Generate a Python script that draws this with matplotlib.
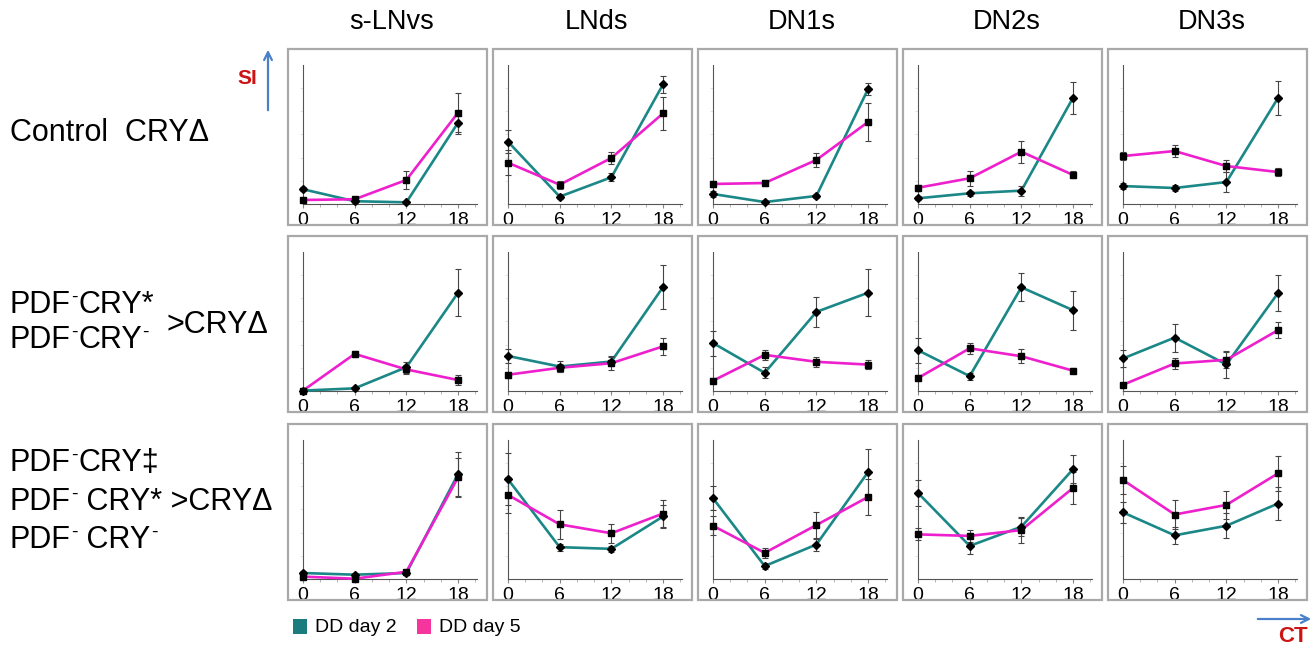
import matplotlib
matplotlib.use("Agg")
import matplotlib.pyplot as plt
from matplotlib.patches import Rectangle, FancyArrowPatch
from matplotlib import font_manager
import numpy as np

# ---------------- data ----------------
cells = ["s-LNvs", "LNds", "DN1s", "DN2s", "DN3s"]
ct = [0, 6, 12, 18]
legend_labels = ["DD day 2", "DD day 5"]

# Row 1: Control CRYΔ
day2_row1 = [[10.6, 2.0, 1.2, 58.5], [44.8, 5.3, 19.2, 86.1], [7.2, 1.4, 5.8, 82.7],
             [4.1, 7.7, 9.6, 76.5], [12.9, 11.5, 15.8, 76.3]]
day5_row1 = [[2.9, 3.4, 17.3, 65.7], [29.7, 13.9, 33.1, 65.2], [14.4, 15.1, 31.7, 59.0],
             [11.7, 18.5, 37.6, 20.9], [34.5, 38.1, 27.3, 23.0]]
err2_row1 = [[1.5, 1, 1, 8], [8.4, 2, 3, 6], [2, 1, 1.5, 4], [1.5, 2, 3.5, 11.6], [2, 2, 7, 12]]
err5_row1 = [[1, 1.5, 6.5, 14], [9, 3, 4, 12], [2.5, 2.5, 5, 14], [2, 5.5, 8, 2.5], [3, 4, 4, 3]]

# Row 2: PDF-CRY* PDF-CRY- >CRYΔ
day2_row2 = [[0.3, 1.9, 17.1, 70.7], [25.2, 17.6, 21.2, 74.8], [34.5, 13.1, 56.9, 70.7],
             [29.3, 10.7, 74.6, 58.1], [23.4, 38.4, 19.1, 70.5]]
day5_row2 = [[0.3, 26.7, 15.5, 7.9], [11.7, 16.7, 20.0, 32.1], [7.4, 26.0, 21.0, 19.0],
             [9.3, 30.7, 25.0, 14.6], [4.5, 19.8, 22.4, 43.8]]
err2_row2 = [[1, 1, 4, 17], [5, 4, 3, 16], [9, 4, 11, 17], [9, 2.5, 10, 14], [6, 10, 9.5, 13]]
err5_row2 = [[1, 2, 3, 3.5], [2, 3, 5, 6], [2, 3.5, 3.5, 3.5], [2, 4, 5, 2], [1.5, 4, 6, 6]]

# Row 3: PDF-CRY‡ PDF-CRY* PDF-CRY- >CRYΔ
day2_row3 = [[4.3, 3.1, 4.3, 75.5], [71.7, 22.9, 21.7, 45.0], [58.1, 9.3, 24.8, 76.9],
             [61.9, 23.8, 37.6, 79.0], [47.9, 31.4, 38.3, 54.3]]
day5_row3 = [[1.7, 0.2, 5.2, 73.1], [60.5, 39.3, 32.9, 47.1], [38.3, 18.8, 38.8, 59.0],
             [32.1, 31.0, 35.2, 65.5], [71.2, 46.4, 53.3, 76.0]]
err2_row3 = [[1.5, 1.5, 1.5, 16], [18.8, 2.4, 2.4, 8], [8.6, 2.4, 4.3, 16.7], [9.5, 6, 6.4, 10], [7.4, 6, 9, 12]]
err5_row3 = [[1.5, 1, 1.5, 14], [12.9, 10.7, 6.7, 9.5], [7, 3.8, 9.5, 13], [4.3, 4.3, 9.5, 11.4], [9.8, 10.7, 10.2, 12.6]]

day2 = [day2_row1, day2_row2, day2_row3]
day5 = [day5_row1, day5_row2, day5_row3]
err2 = [err2_row1, err2_row2, err2_row3]
err5 = [err5_row1, err5_row2, err5_row3]

# ---------------- style ----------------
TEAL = "#1b8787"
MAG = "#ee1fcc"
LEG_TEAL = "#1a7c7c"
LEG_MAG = "#f5349e"
ARROW = "#4a80c8"
RED = "#cc1414"

avail = {f.name for f in font_manager.fontManager.ttflist}
MAIN = ["Liberation Sans", "DejaVu Sans"]
NARROW = ["Liberation Sans Narrow", "Liberation Sans", "DejaVu Sans"] if "Liberation Sans Narrow" in avail else ["Liberation Sans", "DejaVu Sans"]
plt.rcParams["font.family"] = MAIN

W, H = 1315, 649
fig = plt.figure(figsize=(W / 100, H / 100), dpi=100)
renderer = fig.canvas.get_renderer()


def fx(px):
    return px / W


def fy(py):
    return 1 - py / H


box_left = [288, 493, 698, 903, 1108]
box_top = [49, 236, 424]
box_w, box_h = 199, 176

for r in range(3):
    for c in range(5):
        bl, bt = box_left[c], box_top[r]
        fig.patches.append(Rectangle((fx(bl), fy(bt + box_h)), box_w / W, box_h / H,
                                     transform=fig.transFigure, fill=False,
                                     edgecolor="#a9a9a9", lw=1.6, zorder=0))
        ax = fig.add_axes([fx(bl + 15), fy(bt + 155), 174 / W, 139 / H])
        ax.set_xlim(0, 20.2)
        ax.set_ylim(0, 100)
        ax.patch.set_alpha(0)
        for s in ["top", "right"]:
            ax.spines[s].set_visible(False)
        ax.spines["left"].set_color("#555555")
        ax.spines["bottom"].set_color("#555555")
        ax.spines["left"].set_linewidth(0.8)
        ax.spines["bottom"].set_linewidth(0.8)
        ax.set_xticks(ct)
        ax.set_xticklabels([str(t) for t in ct], family=NARROW, fontsize=14)
        ax.set_xticks(np.arange(2, 20.1, 2), minor=True)
        ax.set_yticks([])
        ax.set_yticks(np.arange(16.7, 100, 16.7), minor=True)
        ax.tick_params(axis="x", which="major", length=3, color="#888888", pad=2.5)
        ax.tick_params(axis="x", which="minor", length=2, color="#aaaaaa")
        ax.tick_params(axis="y", which="minor", length=2, color="#dddddd")

        ax.plot(ct, day2[r][c], color=TEAL, lw=1.9, zorder=3, clip_on=False)
        ax.plot(ct, day5[r][c], color=MAG, lw=1.9, zorder=4, clip_on=False)
        ax.errorbar(ct, day2[r][c], yerr=err2[r][c], fmt="D", ms=4.5, color="black",
                    ecolor="#444444", elinewidth=0.8, capsize=2, capthick=0.8, zorder=5,
                    clip_on=False)
        ax.errorbar(ct, day5[r][c], yerr=err5[r][c], fmt="s", ms=4.5, color="black",
                    ecolor="#444444", elinewidth=0.8, capsize=2, capthick=0.8, zorder=5,
                    clip_on=False)

# column titles
for c, name in enumerate(cells):
    fig.text(fx(box_left[c] + box_w / 2 + 4), fy(22), name, ha="center", va="center",
             fontsize=19.5)

# row labels, built from pieces so the superscript minus looks like the reference
FS = 22
SUP = 14


def rich(x0, baseline, pieces):
    x = x0
    for txt, size, rise in pieces:
        t = fig.text(fx(x), fy(baseline - rise), txt, ha="left", va="baseline", fontsize=size)
        bb = t.get_window_extent(renderer)
        x += bb.width + (1 if size == SUP else 0)


rich(10, 141, [("Control  CRYΔ", FS, 0)])
rich(10, 313, [("PDF", FS, 0), ("-", SUP, 11), ("CRY*", FS, 0)])
rich(10, 348, [("PDF", FS, 0), ("-", SUP, 11), ("CRY", FS, 0), ("-", SUP, 11)])
rich(167, 333, [(">CRYΔ", FS, 0)])
rich(10, 471, [("PDF", FS, 0), ("-", SUP, 11), ("CRY‡", FS, 0)])
rich(10, 510, [("PDF", FS, 0), ("-", SUP, 11), (" CRY* >CRYΔ", FS, 0)])
rich(10, 548, [("PDF", FS, 0), ("-", SUP, 11), (" CRY", FS, 0), ("-", SUP, 11)])

# SI arrow
fig.add_artist(FancyArrowPatch((fx(268), fy(113)), (fx(268), fy(47)), transform=fig.transFigure,
                               arrowstyle="->", mutation_scale=14, color=ARROW, lw=1.6))
fig.text(fx(247), fy(79), "SI", ha="center", va="center", fontsize=15, color=RED,
         fontweight="bold")

# CT arrow
fig.add_artist(FancyArrowPatch((fx(1255), fy(619)), (fx(1314), fy(619)), transform=fig.transFigure,
                               arrowstyle="->", mutation_scale=14, color=ARROW, lw=1.6))
fig.text(fx(1293), fy(637), "CT", ha="center", va="center", fontsize=16, color=RED,
         fontweight="bold")

# legend
for (x0, col, lab) in [(293, LEG_TEAL, legend_labels[0]), (417, LEG_MAG, legend_labels[1])]:
    fig.patches.append(Rectangle((fx(x0), fy(634)), 14 / W, 15 / H, transform=fig.transFigure,
                                 facecolor=col, edgecolor="none"))
    fig.text(fx(x0 + 22), fy(627), lab, ha="left", va="center", fontsize=14)

fig.savefig("out.png", dpi=100)
